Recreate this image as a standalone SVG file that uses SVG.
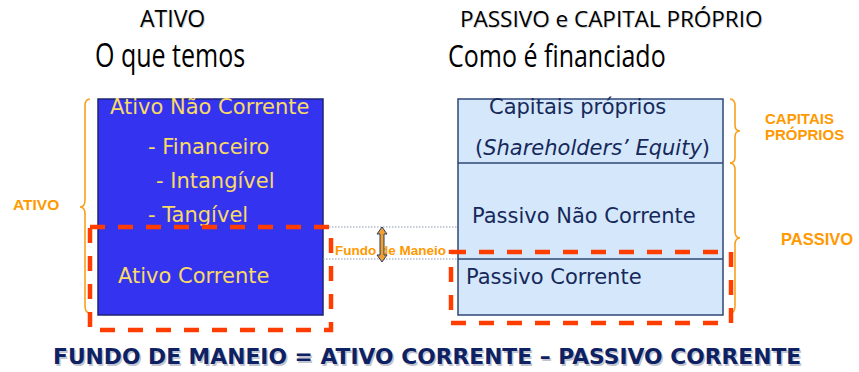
<svg xmlns="http://www.w3.org/2000/svg" width="859" height="372" viewBox="0 0 859 372">
<style>
.hdr{font-family:"Open Sans","DejaVu Sans",sans-serif;fill:#000}
.shd{fill:#000;opacity:0.18}
.yl{font-family:"DejaVu Sans",sans-serif;font-size:21px;fill:#F8DA66}
.nv{font-family:"DejaVu Sans",sans-serif;font-size:21px;fill:#15295A}
.or{font-family:"Liberation Sans",Arial,sans-serif;font-weight:bold;fill:#FF9900}
.brace{fill:none;stroke:#F9A11B;stroke-width:1.6}
.red{fill:none;stroke:#FF3D00;stroke-width:4.5;stroke-dasharray:15 13}
.dot{stroke:#8A96AE;stroke-width:1;stroke-dasharray:1.5 1.5}
.bot{font-family:"DejaVu Sans",sans-serif;font-weight:bold;font-size:21.8px}
</style>
<rect width="859" height="372" fill="#fff"/>

<g id="headers">
  <text class="hdr shd" x="141" y="28" font-size="23">ATIVO</text>
  <text class="hdr" x="140" y="27" font-size="23">ATIVO</text>
  <text class="hdr shd" x="461" y="28" font-size="22.5">PASSIVO e CAPITAL PRÓPRIO</text>
  <text class="hdr" x="460" y="27" font-size="22.5">PASSIVO e CAPITAL PRÓPRIO</text>
  <text class="hdr" font-size="25" transform="translate(95,67) scale(1,1.3)">O que temos</text>
  <text class="hdr" font-size="25" transform="translate(448,67) scale(1,1.25)">Como é financiado</text>
</g>

<g id="ativo-box">
  <rect x="98" y="99" width="225" height="216" fill="#3434F0" stroke="#1C2470" stroke-width="1.5"/>
  <text class="yl" x="110" y="114">Ativo Não Corrente</text>
  <text class="yl" x="148" y="154">- Financeiro</text>
  <text class="yl" x="156" y="188">- Intangível</text>
  <text class="yl" x="148" y="222">- Tangível</text>
  <text class="yl" x="118" y="283">Ativo Corrente</text>
</g>

<g id="passivo-box">
  <rect x="458" y="99" width="265" height="216" fill="#D5E7FB" stroke="#2E4775" stroke-width="1.5"/>
  <line x1="458" y1="163" x2="723" y2="163" stroke="#2E4775" stroke-width="1.5"/>
  <line x1="458" y1="259" x2="723" y2="259" stroke="#2E4775" stroke-width="1.5"/>
  <text class="nv" x="489" y="114">Capitais próprios</text>
  <text class="nv" x="475" y="155" font-size="19">(<tspan font-style="italic">Shareholders’ Equity</tspan>)</text>
  <text class="nv" x="472" y="223">Passivo Não Corrente</text>
  <text class="nv" x="466" y="284">Passivo Corrente</text>
</g>

<g id="braces">
  <path class="brace" d="M90,99 Q85,99 85,106 L85,200 Q85,207 80,207 Q85,207 85,214 L85,306 Q85,313 90,313"/>
  <path class="brace" d="M730,99 Q735,99 735,106 L735,125 Q735,131 740,131 Q735,131 735,137 L735,157 Q735,163 730,163"/>
  <path class="brace" d="M730,163 Q735,163 735,170 L735,231 Q735,238 740,238 Q735,238 735,245 L735,306 Q735,313 730,313"/>
</g>

<g id="labels">
  <text class="or" x="13" y="210" font-size="15.5">ATIVO</text>
  <text class="or" x="765" y="124" font-size="15">CAPITAIS</text>
  <text class="or" x="765" y="140" font-size="15">PRÓPRIOS</text>
  <text class="or" x="781" y="245" font-size="16.5">PASSIVO</text>
</g>

<g id="connectors">
  <line class="dot" x1="323" y1="227" x2="458" y2="227"/>
  <line class="dot" x1="323" y1="259" x2="458" y2="259"/>
  <text class="or" x="335" y="255" font-size="13.5">Fundo de Maneio</text>
  <polygon points="382,227 387,234 384,234 384,255 387,255 382,262 377,255 380,255 380,234 377,234" fill="#F0A02E" stroke="#2B3A67" stroke-width="1"/>
</g>

<g id="working-capital">
  <rect class="red" x="90" y="227" width="241" height="103"/>
  <rect class="red" x="451" y="252" width="280" height="71"/>
</g>

<g id="formula">
  <text class="bot" x="54.5" y="365.5" fill="#9AA0B0" opacity="0.6">FUNDO DE MANEIO = ATIVO CORRENTE – PASSIVO CORRENTE</text>
  <text class="bot" x="53" y="364" fill="#0E2163">FUNDO DE MANEIO = ATIVO CORRENTE – PASSIVO CORRENTE</text>
</g>
</svg>
